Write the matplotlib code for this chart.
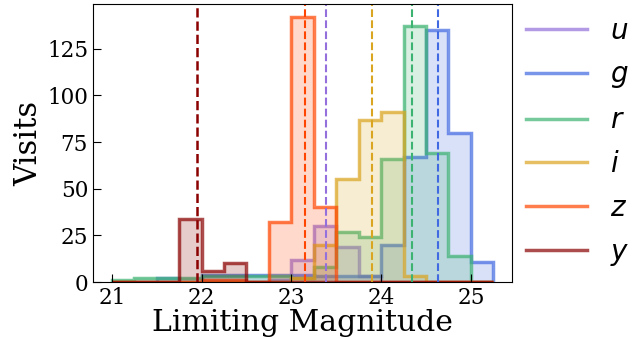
import numpy as np
import matplotlib
matplotlib.use("Agg")
import matplotlib.pyplot as plt
from matplotlib.lines import Line2D

# histogram bin edges (limiting magnitude), 0.25 mag bins
edges = np.arange(21.0, 25.26, 0.25)

filters = ["u", "g", "r", "i", "z", "y"]
colors = ["mediumpurple", "royalblue", "mediumseagreen", "goldenrod", "orangered", "darkred"]

# visits per bin
u_counts = [0, 0, 0, 0, 0, 0, 0, 1, 12, 30, 19, 3, 0, 0, 0, 0, 0]
g_counts = [0, 0, 2, 0, 4, 4, 4, 4, 4, 3, 3, 3, 20, 67, 135, 80, 11]
r_counts = [1, 2, 2, 2, 3, 3, 3, 3, 2, 8, 27, 24, 66, 137, 69, 14, 0]
i_counts = [0, 0, 0, 0, 0, 0, 0, 0, 2, 20, 55, 87, 91, 3, 0, 0, 0]
z_counts = [0, 0, 0, 0, 1, 1, 0, 32, 142, 40, 0, 0, 0, 0, 0, 0, 0]
y_counts = [0, 0, 0, 34, 6, 10, 0, 0, 0, 0, 0, 0, 0, 0, 0, 0, 0]

# median limiting magnitude per filter (dashed lines)
medians = [23.39, 24.63, 24.34, 23.90, 23.15, 21.95]

counts = [u_counts, g_counts, r_counts, i_counts, z_counts, y_counts]

fig = plt.figure(figsize=(6.41, 3.39), dpi=100)
ax = fig.add_axes([0.145, 0.168, 0.654, 0.820])

for c, col in zip(counts, colors):
    ax.stairs(c, edges, fill=True, color=col, alpha=0.2, linewidth=0)
    ax.stairs(c, edges, color=col, alpha=0.7, linewidth=2.5)

for m, col in zip(medians, colors):
    lw = 1.8 if col == "darkred" else 1.5
    ax.axvline(m, color=col, linestyle="--", linewidth=lw)

ax.set_xlim(20.79, 25.46)
ax.set_ylim(0, 149)
ax.set_xticks([21, 22, 23, 24, 25])
ax.set_yticks([0, 25, 50, 75, 100, 125])
ax.tick_params(direction="in", length=6, labelsize=15.5)
for lab in ax.get_xticklabels() + ax.get_yticklabels():
    lab.set_family("DejaVu Serif")

ax.set_xlabel("Limiting Magnitude", family="DejaVu Serif", fontsize=21.5, labelpad=0)
ax.set_ylabel("Visits", family="DejaVu Serif", fontsize=22, labelpad=2)

handles = [Line2D([], [], color=col, alpha=0.7, linewidth=2.5) for col in colors]
labels = ["$" + f + "$" for f in filters]
ax.legend(handles, labels, loc="upper left", bbox_to_anchor=(0.974, 1.045),
          frameon=False, fontsize=20, handlelength=2.2, labelspacing=0.57)

fig.savefig("out.png", dpi=100)
